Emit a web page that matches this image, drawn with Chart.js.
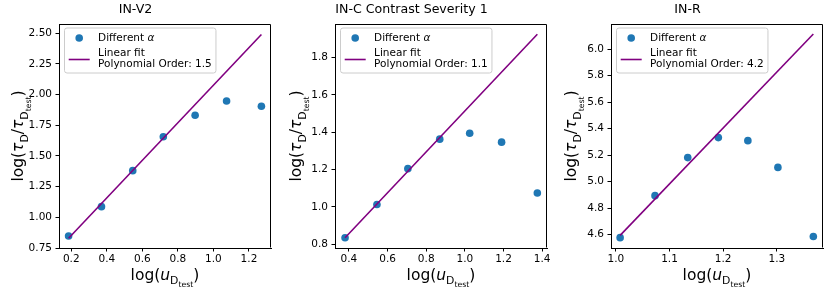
<!DOCTYPE html>
<html><head><meta charset="utf-8">
<script src="https://cdn.jsdelivr.net/npm/chart.js@4.4.1/dist/chart.umd.min.js"></script>
<style>
html,body{margin:0;padding:0;background:#fff;}
#wrap{position:relative;width:831px;height:295px;overflow:hidden;background:#fff;}
#wrap canvas{position:absolute;top:0;}
</style></head><body>
<div id="wrap">
<canvas id="c0" width="276" height="295" style="left:0px"></canvas>
<canvas id="c1" width="276" height="295" style="left:276px"></canvas>
<canvas id="c2" width="279" height="295" style="left:552px"></canvas>
</div>
<script>
// ---------- DATA ----------
const titles = ['IN-V2', 'IN-C Contrast Severity 1', 'IN-R'];
const fitOrders = ['1.5', '1.1', '4.2'];
const scatterLabel = 'Different ';
const scatterSymbol = 'α';
const fitLabel = 'Linear fit';
const orderPrefix = 'Polynomial Order: ';

// IN-V2
const xV2 = [0.185, 0.37, 0.546, 0.718, 0.897, 1.074, 1.27];
const yV2 = [0.848, 1.087, 1.38, 1.657, 1.832, 1.948, 1.905];
const fitXV2 = [0.185, 1.27];
const fitYV2 = [0.83, 2.49];
const xTicksV2 = [0.2, 0.4, 0.6, 0.8, 1.0, 1.2];
const xTickLabelsV2 = ['0.2', '0.4', '0.6', '0.8', '1.0', '1.2'];
const yTicksV2 = [0.75, 1.00, 1.25, 1.50, 1.75, 2.00, 2.25, 2.50];
const yTickLabelsV2 = ['0.75', '1.00', '1.25', '1.50', '1.75', '2.00', '2.25', '2.50'];

// IN-C Contrast Severity 1
const xC = [0.38, 0.545, 0.705, 0.87, 1.025, 1.19, 1.375];
const yC = [0.835, 1.013, 1.205, 1.363, 1.395, 1.347, 1.075];
const fitXC = [0.38, 1.375];
const fitYC = [0.835, 1.925];
const xTicksC = [0.4, 0.6, 0.8, 1.0, 1.2, 1.4];
const xTickLabelsC = ['0.4', '0.6', '0.8', '1.0', '1.2', '1.4'];
const yTicksC = [0.8, 1.0, 1.2, 1.4, 1.6, 1.8];
const yTickLabelsC = ['0.8', '1.0', '1.2', '1.4', '1.6', '1.8'];

// IN-R
const xR = [1.008, 1.073, 1.134, 1.191, 1.246, 1.302, 1.368];
const yR = [4.578, 4.895, 5.182, 5.333, 5.31, 5.108, 4.587];
const fitXR = [1.008, 1.368];
const fitYR = [4.595, 6.115];
const xTicksR = [1.0, 1.1, 1.2, 1.3];
const xTickLabelsR = ['1.0', '1.1', '1.2', '1.3'];
const yTicksR = [4.6, 4.8, 5.0, 5.2, 5.4, 5.6, 5.8, 6.0];
const yTickLabelsR = ['4.6', '4.8', '5.0', '5.2', '5.4', '5.6', '5.8', '6.0'];

// axis label text (rich segments: t=text, i=italic, l=subscript level)
const xLabelSegs = [{t:'log('},{t:'u',i:1},{t:'D',l:1},{t:'test',l:2},{t:')'}];
const yLabelSegs = [{t:'log('},{t:'τ',i:1},{t:'D',l:1},{t:'/'},{t:'τ',i:1},{t:'D',l:1},{t:'test',l:2},{t:')'}];

// ---------- STYLE / LAYOUT ----------
const FONT = '"DejaVu Sans", sans-serif';
const TICK_FS = 10.5, TITLE_FS = 12.6, LABEL_FS = 15.5;
const BLUE = '#1f77b4', PURPLE = '#800080';
const subScale = [1, 0.7, 0.5];
const subDrop = [0, 0.28, 0.47];

function segFont(s, base){ return (s.i ? 'italic ' : '') + (base*subScale[s.l||0]) + 'px ' + FONT; }
function richWidth(ctx, segs, base){ let w=0; for(const s of segs){ ctx.font=segFont(s,base); w+=ctx.measureText(s.t).width; } return w; }
function drawRich(ctx, segs, base, cx, baseline){
  const w = richWidth(ctx, segs, base);
  let x = cx - w/2;
  ctx.textAlign='left'; ctx.textBaseline='alphabetic'; ctx.fillStyle='#000';
  for(const s of segs){ ctx.font=segFont(s,base); ctx.fillText(s.t, x, baseline + subDrop[s.l||0]*base); x += ctx.measureText(s.t).width; }
}

const decorPlugin = {
  id: 'decor',
  afterDatasetsDraw(chart){
    const o = chart.options.plugins.decor; const ctx = chart.ctx; const a = chart.chartArea;
    ctx.save();
    // frame (top/right spines)
    ctx.strokeStyle='#000'; ctx.lineWidth=1;
    const L=Math.round(a.left)+0.5, T=Math.round(a.top)+0.5, R=Math.round(a.right)-0.5, B=Math.round(a.bottom)-0.5;
    ctx.beginPath(); ctx.moveTo(L,T); ctx.lineTo(R,T); ctx.lineTo(R,B); ctx.stroke();
    // legend
    const bx = a.left + 5.5, by = a.top + 4;
    ctx.font = TICK_FS + 'px ' + FONT;
    const l2 = orderPrefix + o.order;
    const tw = Math.max(ctx.measureText(fitLabel).width, ctx.measureText(l2).width, ctx.measureText(scatterLabel + scatterSymbol).width);
    const pad = 4.2, hl = 21, htp = 8.4;
    const bw = pad + hl + htp + tw + pad, bh = 45;
    const r = 2.5;
    ctx.beginPath();
    ctx.moveTo(bx+r, by); ctx.lineTo(bx+bw-r, by); ctx.arcTo(bx+bw, by, bx+bw, by+r, r);
    ctx.lineTo(bx+bw, by+bh-r); ctx.arcTo(bx+bw, by+bh, bx+bw-r, by+bh, r);
    ctx.lineTo(bx+r, by+bh); ctx.arcTo(bx, by+bh, bx, by+bh-r, r);
    ctx.lineTo(bx, by+r); ctx.arcTo(bx, by, bx+r, by, r); ctx.closePath();
    ctx.fillStyle='rgba(255,255,255,0.8)'; ctx.fill();
    ctx.strokeStyle='#cccccc'; ctx.lineWidth=1; ctx.stroke();
    // scatter entry
    ctx.fillStyle = BLUE; ctx.beginPath(); ctx.arc(bx+pad+hl/2, by+10, 3.8, 0, Math.PI*2); ctx.fill();
    const tx = bx+pad+hl+htp;
    ctx.fillStyle='#000'; ctx.textAlign='left'; ctx.textBaseline='middle';
    ctx.font = TICK_FS + 'px ' + FONT;
    ctx.fillText(scatterLabel, tx, by+10);
    const sw = ctx.measureText(scatterLabel).width;
    ctx.font = 'italic ' + TICK_FS + 'px ' + FONT;
    ctx.fillText(scatterSymbol, tx+sw, by+10);
    // line entry
    ctx.strokeStyle = PURPLE; ctx.lineWidth = 1.6;
    ctx.beginPath(); ctx.moveTo(bx+pad, by+31.5); ctx.lineTo(bx+pad+hl, by+31.5); ctx.stroke();
    ctx.font = TICK_FS + 'px ' + FONT;
    ctx.fillText(fitLabel, tx, by+25);
    ctx.fillText(l2, tx, by+36);
    // axis labels
    const cx = (a.left + a.right)/2;
    drawRich(ctx, xLabelSegs, LABEL_FS, cx, 280);
    ctx.save();
    ctx.translate(o.ylx, (a.top + a.bottom)/2);
    ctx.rotate(-Math.PI/2);
    drawRich(ctx, yLabelSegs, LABEL_FS, 0, 0);
    ctx.restore();
    ctx.restore();
  }
};

const panels = [
  {id:'c0', title:titles[0], x:xV2, y:yV2, fx:fitXV2, fy:fitYV2, xt:xTicksV2, xtl:xTickLabelsV2, yt:yTicksV2, ytl:yTickLabelsV2, xr:[0.131,1.324], yr:[0.75,2.575], order:fitOrders[0], pr:5, ylx:23.4},
  {id:'c1', title:titles[1], x:xC, y:yC, fx:fitXC, fy:fitYC, xt:xTicksC, xtl:xTickLabelsC, yt:yTicksC, ytl:yTickLabelsC, xr:[0.328,1.425], yr:[0.78,1.98], order:fitOrders[1], pr:5, ylx:25.4},
  {id:'c2', title:titles[2], x:xR, y:yR, fx:fitXR, fy:fitYR, xt:xTicksR, xtl:xTickLabelsR, yt:yTicksR, ytl:yTickLabelsR, xr:[0.991,1.386], yr:[4.50,6.19], order:fitOrders[2], pr:8, ylx:24.4}
];

Chart.defaults.font.family = FONT;
Chart.defaults.font.size = TICK_FS;
Chart.defaults.color = '#000';

for (const p of panels){
  const tickGrid = {display:true, drawOnChartArea:false, drawTicks:true, tickLength:3.5, tickColor:'#000', tickWidth:1};
  new Chart(document.getElementById(p.id), {
    type:'scatter',
    data:{datasets:[
      {type:'line', data:p.fx.map((v,i)=>({x:v, y:p.fy[i]})), borderColor:PURPLE, borderWidth:1.6, pointRadius:0, fill:false, showLine:true, order:0},
      {data:p.x.map((v,i)=>({x:v, y:p.y[i]})), backgroundColor:BLUE, borderColor:BLUE, borderWidth:0, pointRadius:3.8, pointHoverRadius:3.8, order:1}
    ]},
    plugins:[decorPlugin],
    options:{
      responsive:false, animation:false, events:[],
      layout:{padding:{left:0, right:p.pr, top:0, bottom:0}},
      plugins:{
        legend:{display:false}, tooltip:{enabled:false},
        title:{display:true, text:p.title, font:{size:TITLE_FS, weight:'normal', lineHeight:1.2, family:FONT}, color:'#000', padding:{top:2.5, bottom:6.38}},
        decor:{order:p.order, ylx:p.ylx}
      },
      scales:{
        x:{type:'linear', position:'bottom', min:p.xr[0], max:p.xr[1],
           grid:tickGrid, border:{display:true, color:'#000', width:1},
           ticks:{padding:1.5, maxRotation:0, minRotation:0, autoSkip:false, color:'#000', callback:(v,i)=>p.xtl[i]},
           afterBuildTicks:s=>{s.ticks=p.xt.map(v=>({value:v}));},
           afterFit:s=>{s.height=47; s.paddingLeft=0; s.paddingRight=0;}},
        y:{type:'linear', position:'left', min:p.yr[0], max:p.yr[1],
           grid:tickGrid, border:{display:true, color:'#000', width:1},
           ticks:{padding:3.5, autoSkip:false, color:'#000', callback:(v,i)=>p.ytl[i]},
           afterBuildTicks:s=>{s.ticks=p.yt.map(v=>({value:v}));},
           afterFit:s=>{s.width=59; s.paddingTop=0; s.paddingBottom=0;}}
      }
    }
  });
}
</script>
</body></html>
